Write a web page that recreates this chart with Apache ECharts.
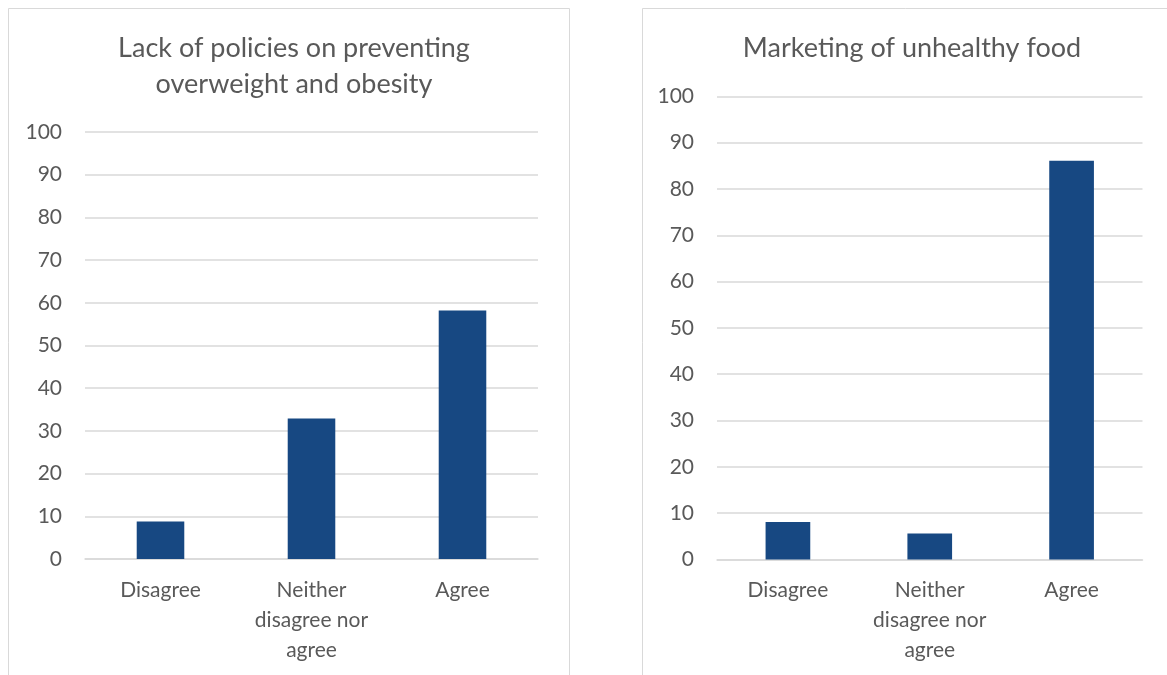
<!DOCTYPE html>
<html>
<head>
<meta charset="utf-8">
<script src="https://cdn.jsdelivr.net/npm/echarts@6/dist/echarts.min.js"></script>
<style>
  html, body { margin: 0; padding: 0; background: #ffffff; }
  #chart { width: 1167px; height: 675px; }
</style>
</head>
<body>
<div id="chart"></div>
<script>
// Response categories (display text with line breaks)
const categories = ['Disagree', 'Neither\ndisagree nor\nagree', 'Agree'];

// Share of respondents (%) per answer
const policiesValues = [8.8, 32.9, 58.2];
const marketingValues = [8.1, 5.6, 86.1];

const titles = ['Lack of policies on preventing\noverweight and obesity', 'Marketing of unhealthy food'];
const yTicks = { min: 0, max: 100, interval: 10 };

const BAR = '#174882';
const GRID = '#d9d9d9';
const TEXT = '#595959';
const FONT = 'Lato, "Open Sans", sans-serif';

const chart = echarts.init(document.getElementById('chart'), null, { renderer: 'canvas' });

function xAxis(gridIndex) {
  return {
    type: 'category',
    gridIndex,
    data: categories,
    axisTick: { show: false },
    axisLine: { lineStyle: { color: GRID, width: 1.5 } },
    axisLabel: { color: TEXT, fontFamily: FONT, fontSize: 21, lineHeight: 30, margin: 16, interval: 0 }
  };
}
function yAxis(gridIndex) {
  return {
    type: 'value',
    gridIndex,
    min: yTicks.min, max: yTicks.max, interval: yTicks.interval,
    axisLine: { show: false },
    axisTick: { show: false },
    splitLine: { lineStyle: { color: GRID, width: 1.5 } },
    axisLabel: { color: TEXT, fontFamily: FONT, fontSize: 21, margin: 23 }
  };
}
function bars(idx, data) {
  return {
    type: 'bar',
    xAxisIndex: idx, yAxisIndex: idx,
    data,
    barWidth: '31.5%',
    itemStyle: { color: BAR },
    silent: true
  };
}

const titleStyle = { color: TEXT, fontFamily: FONT, fontSize: 27, fontWeight: 'normal', lineHeight: 36 };

chart.setOption({
  animation: false,
  backgroundColor: '#ffffff',
  graphic: [
    { type: 'rect', shape: { x: 8.5, y: 8.5, width: 561, height: 680 }, style: { fill: 'none', stroke: GRID, lineWidth: 1 } },
    { type: 'rect', shape: { x: 642.5, y: 8.5, width: 540, height: 680 }, style: { fill: 'none', stroke: GRID, lineWidth: 1 } }
  ],
  title: [
    { text: titles[0], left: 289, top: 25, textAlign: 'center', textStyle: titleStyle },
    { text: titles[1], left: 907, top: 25, textAlign: 'center', textStyle: titleStyle }
  ],
  grid: [
    { left: 85, top: 132, width: 453, height: 427, containLabel: false },
    { left: 717, top: 96.4, width: 425.5, height: 463, containLabel: false }
  ],
  xAxis: [xAxis(0), xAxis(1)],
  yAxis: [yAxis(0), yAxis(1)],
  series: [bars(0, policiesValues), bars(1, marketingValues)]
});
</script>
</body>
</html>
